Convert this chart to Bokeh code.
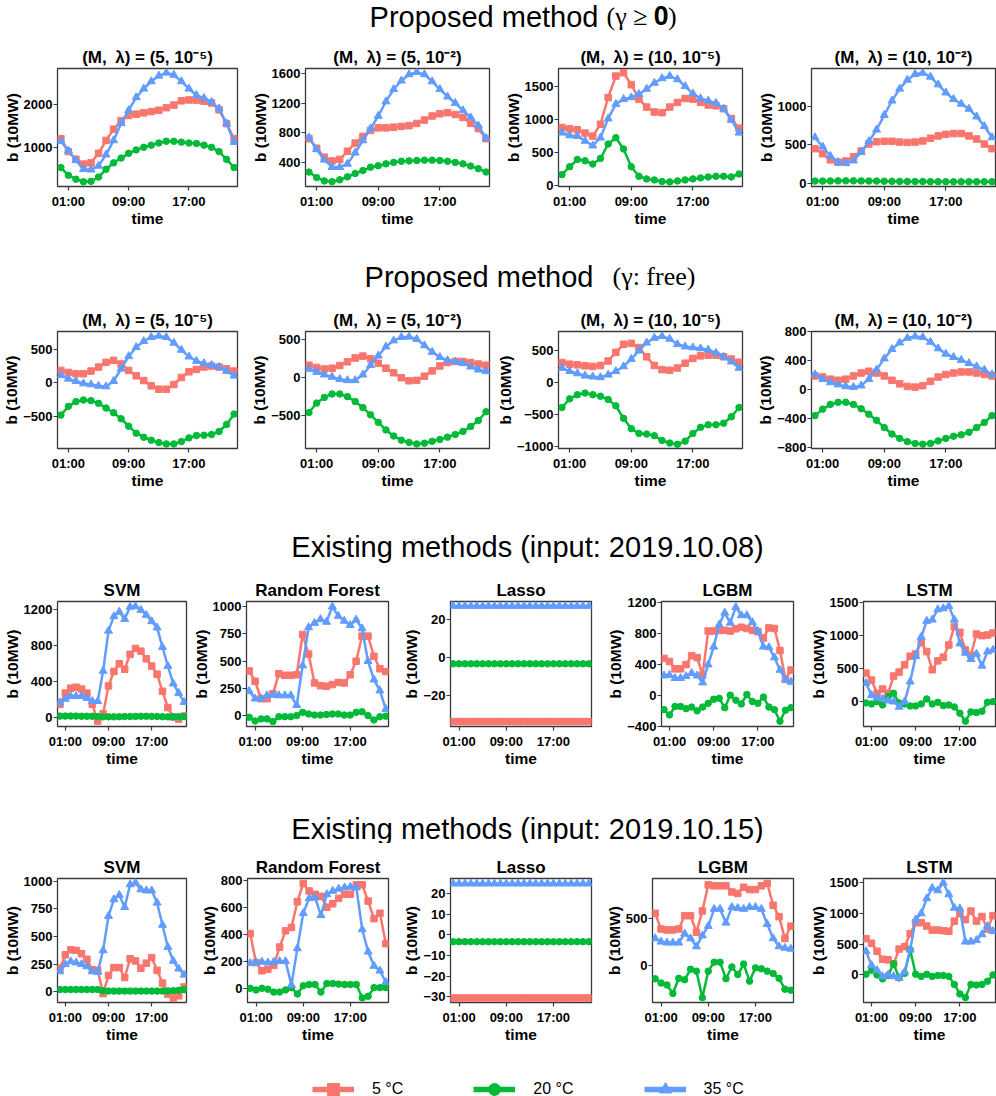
from bokeh.plotting import figure
from bokeh.layouts import column, row
from bokeh.models import Range1d, FixedTicker, Label, Legend, LegendItem
from bokeh.embed import file_html
from bokeh.resources import INLINE

# ---------------- data ----------------
hours = [0, 1, 2, 3, 4, 5, 6, 7, 8, 9, 10, 11, 12, 13, 14, 15, 16, 17, 18, 19, 20, 21, 22, 23]
x_ticks = [1, 9, 17]
x_tick_labels = ["01:00", "09:00", "17:00"]
series_names = ["5 °C", "20 °C", "35 °C"]

# Proposed method (gamma >= 0)
A1_5C = [1210, 910, 730, 620, 650, 870, 1170, 1430, 1630, 1750, 1780, 1810, 1840, 1870, 1930, 1990, 2090, 2110, 2100, 2080, 2040, 1880, 1560, 1210]
A1_20C = [540, 360, 270, 210, 220, 320, 500, 650, 760, 870, 950, 1010, 1060, 1110, 1150, 1150, 1130, 1110, 1100, 1060, 1010, 910, 730, 540]
A1_35C = [1150, 930, 710, 500, 490, 580, 840, 1170, 1570, 1870, 2170, 2370, 2540, 2670, 2740, 2690, 2540, 2370, 2220, 2150, 2060, 1910, 1560, 1130]

A2_5C = [720, 590, 470, 420, 440, 550, 660, 750, 830, 865, 865, 875, 885, 895, 925, 970, 1025, 1055, 1070, 1045, 1005, 925, 855, 720]
A2_20C = [270, 195, 150, 140, 165, 205, 250, 290, 335, 355, 380, 400, 415, 420, 425, 430, 430, 425, 415, 400, 380, 350, 315, 270]
A2_35C = [735, 575, 435, 335, 335, 380, 530, 695, 855, 1025, 1220, 1385, 1500, 1585, 1615, 1585, 1490, 1385, 1285, 1200, 1100, 1005, 895, 725]

A3_5C = [885, 865, 850, 800, 755, 935, 1340, 1665, 1715, 1535, 1315, 1195, 1120, 1110, 1195, 1265, 1325, 1315, 1265, 1225, 1215, 1170, 1020, 875]
A3_20C = [170, 290, 400, 380, 330, 415, 635, 730, 560, 290, 145, 105, 90, 65, 60, 75, 90, 105, 120, 135, 145, 145, 135, 180]
A3_35C = [805, 765, 755, 680, 610, 730, 1020, 1240, 1315, 1340, 1390, 1470, 1560, 1630, 1665, 1615, 1510, 1400, 1325, 1290, 1255, 1170, 1000, 805]

A4_5C = [450, 385, 305, 275, 290, 345, 420, 510, 540, 545, 545, 535, 530, 535, 550, 585, 615, 635, 645, 645, 615, 575, 510, 450]
A4_20C = [30, 30, 32, 33, 33, 33, 32, 31, 30, 28, 27, 26, 25, 24, 24, 23, 23, 22, 22, 22, 22, 22, 22, 22]
A4_35C = [595, 475, 355, 275, 260, 295, 405, 545, 695, 885, 1070, 1225, 1340, 1415, 1430, 1380, 1280, 1175, 1090, 1030, 965, 865, 740, 595]

# Proposed method (gamma free)
B1_5C = [185, 155, 135, 135, 175, 235, 305, 335, 280, 185, 105, 35, -45, -95, -95, -25, 80, 165, 200, 235, 250, 235, 210, 175]
B1_20C = [-480, -350, -280, -255, -265, -305, -375, -445, -535, -645, -750, -810, -855, -890, -910, -910, -875, -820, -785, -780, -770, -725, -620, -465]
B1_35C = [115, 60, 25, -10, -25, -45, -55, 25, 210, 395, 530, 620, 680, 700, 680, 595, 490, 390, 325, 290, 265, 235, 175, 105]

B2_5C = [165, 135, 115, 125, 160, 210, 260, 285, 250, 190, 125, 65, 0, -40, -35, 20, 90, 155, 200, 215, 215, 200, 180, 165]
B2_20C = [-460, -335, -260, -215, -215, -250, -315, -395, -490, -590, -690, -770, -825, -855, -875, -865, -840, -815, -785, -750, -710, -645, -565, -450]
B2_35C = [115, 75, 40, 10, -20, -35, -35, 40, 165, 290, 410, 490, 535, 540, 510, 425, 340, 270, 230, 210, 190, 145, 105, 85]

B3_5C = [315, 290, 280, 265, 255, 270, 340, 475, 600, 615, 550, 405, 270, 205, 195, 230, 305, 380, 420, 430, 430, 405, 370, 320]
B3_20C = [-385, -250, -185, -160, -185, -210, -260, -360, -555, -715, -790, -800, -825, -900, -940, -960, -910, -790, -695, -655, -655, -630, -530, -385]
B3_35C = [230, 180, 145, 110, 95, 85, 125, 180, 255, 370, 500, 625, 700, 725, 685, 600, 565, 550, 535, 515, 465, 405, 330, 230]

B4_5C = [190, 175, 145, 130, 145, 190, 230, 255, 230, 190, 130, 80, 45, 35, 55, 115, 175, 210, 230, 245, 245, 230, 210, 190]
B4_20C = [-360, -270, -205, -175, -175, -205, -265, -340, -425, -525, -615, -675, -720, -745, -755, -745, -710, -675, -645, -625, -590, -525, -455, -360]
B4_35C = [210, 145, 100, 70, 45, 35, 55, 145, 275, 430, 560, 650, 715, 735, 725, 660, 570, 495, 450, 410, 365, 320, 275, 210]

# Existing methods (input: 2019.10.08)
C1_5C = [150, 275, 330, 340, 320, 275, 150, -35, 45, 355, 515, 600, 540, 705, 770, 740, 655, 575, 485, 295, 115, 10, -15, 20]
C1_20C = [20, 20, 20, 20, 18, 18, 18, 15, 12, 12, 12, 14, 15, 15, 17, 18, 18, 17, 15, 14, 12, 12, 13, 15]
C1_35C = [170, 210, 240, 240, 240, 220, 185, 185, 520, 965, 1125, 1175, 1095, 1230, 1235, 1195, 1140, 1070, 1000, 785, 575, 380, 275, 175]

C2_5C = [410, 315, 155, 155, 200, 385, 370, 370, 375, 745, 565, 300, 275, 270, 285, 305, 300, 375, 500, 730, 730, 545, 430, 405]
C2_20C = [-15, -50, -30, -30, -55, -10, -10, -10, 0, 30, 15, 5, 5, 10, 15, 15, 5, 5, 30, 35, 0, -40, -10, -5]
C2_35C = [225, 155, 155, 185, 190, 185, 185, 185, 95, 460, 810, 850, 885, 860, 1000, 915, 870, 830, 880, 800, 500, 330, 230, 60]

C3_5C = [-34, -34, -34, -34, -34, -34, -34, -34, -34, -34, -34, -34, -34, -34, -34, -34, -34, -34, -34, -34, -34, -34, -34, -34]
C3_20C = [-3.5, -3.5, -3.5, -3.5, -3.5, -3.5, -3.5, -3.5, -3.5, -3.5, -3.5, -3.5, -3.5, -3.5, -3.5, -3.5, -3.5, -3.5, -3.5, -3.5, -3.5, -3.5, -3.5, -3.5]
C3_35C = [27, 27, 27, 27, 27, 27, 27, 27, 27, 27, 27, 27, 27, 27, 27, 27, 27, 27, 27, 27, 27, 27, 27, 27]

C4_5C = [475, 435, 340, 340, 395, 510, 485, 260, 828, 828, 837, 837, 828, 857, 877, 861, 837, 820, 739, 869, 861, 577, 203, 325]
C4_20C = [-187, -256, -146, -146, -175, -154, -203, -154, -106, -53, -41, -162, 0, -65, -114, 8, -81, -106, -24, -154, -187, -337, -195, -162]
C4_35C = [252, 260, 219, 219, 244, 284, 252, 162, 394, 625, 910, 1064, 934, 1137, 1031, 1031, 942, 828, 625, 617, 487, 325, 203, 171]

C5_5C = [430, 325, 125, 190, 125, 385, 445, 555, 685, 720, 890, 755, 480, 615, 670, 855, 1130, 1045, 780, 700, 1020, 995, 1005, 1035]
C5_20C = [-20, -35, 0, -50, 75, 125, -20, -35, -65, -65, -35, 40, -35, -10, -60, -50, -80, -175, -295, -155, -165, -145, -10, 0]
C5_35C = [280, 95, 60, 40, 15, 0, -80, 0, 300, 685, 975, 1215, 1235, 1390, 1405, 1440, 1235, 875, 735, 640, 720, 540, 755, 780]

# Existing methods (input: 2019.10.15)
D1_5C = [215, 335, 380, 375, 345, 295, 200, 195, -15, 150, 220, 220, 130, 300, 280, 215, 260, 310, 195, 80, -20, -55, -35, 45]
D1_20C = [22, 22, 22, 22, 22, 22, 22, 22, 10, 8, 8, 8, 8, 8, 8, 8, 8, 8, 8, 8, 10, 12, 15, 20]
D1_35C = [185, 250, 275, 265, 250, 230, 185, 180, 375, 685, 835, 875, 765, 970, 985, 925, 915, 915, 805, 605, 405, 280, 210, 155]

D2_5C = [405, 190, 130, 140, 170, 305, 425, 450, 640, 775, 720, 695, 680, 600, 625, 665, 695, 695, 765, 765, 645, 515, 555, 330]
D2_20C = [0, -12, 0, -7, -28, -28, -12, 5, -42, 19, 28, 28, -28, 35, 35, 31, 28, 28, 28, -71, -59, 5, 5, 5]
D2_35C = [185, 190, 195, 190, 195, 200, 200, 25, 295, 555, 665, 670, 540, 695, 720, 735, 745, 750, 745, 435, 270, 165, 130, 45]

D3_5C = [-30.7, -30.7, -30.7, -30.7, -30.7, -30.7, -30.7, -30.7, -30.7, -30.7, -30.7, -30.7, -30.7, -30.7, -30.7, -30.7, -30.7, -30.7, -30.7, -30.7, -30.7, -30.7, -30.7, -30.7]
D3_20C = [-3.3, -3.3, -3.3, -3.3, -3.3, -3.3, -3.3, -3.3, -3.3, -3.3, -3.3, -3.3, -3.3, -3.3, -3.3, -3.3, -3.3, -3.3, -3.3, -3.3, -3.3, -3.3, -3.3, -3.3]
D3_35C = [25, 25, 25, 25, 25, 25, 25, 25, 25, 25, 25, 25, 25, 25, 25, 25, 25, 25, 25, 25, 25, 25, 25, 25]

D4_5C = [550, 385, 375, 375, 385, 525, 525, 350, 575, 850, 840, 840, 840, 775, 760, 825, 800, 800, 840, 865, 635, 515, 285, 415]
D4_20C = [-140, -185, -205, -295, -135, -150, -40, -60, -340, -60, 35, 35, -140, -15, -95, 15, -165, -25, -35, -60, -85, -135, -250, -260]
D4_35C = [285, 250, 240, 240, 240, 335, 285, 200, 315, 415, 595, 595, 450, 615, 605, 595, 615, 615, 595, 435, 285, 200, 185, 175]

D5_5C = [590, 515, 385, 255, 245, 180, 420, 460, 670, 850, 850, 795, 730, 730, 720, 710, 875, 1000, 900, 1040, 875, 950, 745, 965]
D5_20C = [10, 75, 0, -65, -10, 180, -50, 25, 410, 10, -25, 10, -25, -10, -10, -25, -155, -310, -370, -155, -165, -155, -105, 0]
D5_35C = [385, 155, 75, -25, 0, -25, -50, 50, 410, 900, 1000, 1245, 1415, 1375, 1500, 1310, 1090, 1080, 540, 540, 565, 660, 795, 710]

titles_proposed = ["(M,\u2002λ) = (5, 10⁻⁵)", "(M,\u2002λ) = (5, 10⁻²)", "(M,\u2002λ) = (10, 10⁻⁵)", "(M,\u2002λ) = (10, 10⁻²)"]
titles_existing = ["SVM", "Random Forest", "Lasso", "LGBM", "LSTM"]

# y axis limits and ticks per panel
A_ylims = [(100, 2840), (75, 1665), (-10, 1780), (-40, 1488)]
A_yticks = [[1000, 2000], [400, 800, 1200, 1600], [0, 500, 1000, 1500], [0, 500, 1000]]
B_ylims = [(-978, 765), (-935, 610), (-1025, 800), (-815, 805)]
B_yticks = [[-500, 0, 500], [-500, 0, 500], [-1000, -500, 0, 500], [-800, -400, 0, 400, 800]]
C_ylims = [(-95, 1290), (-100, 1048), (-36.6, 29.4), (-405, 1210), (-375, 1510)]
C_yticks = [[0, 400, 800, 1200], [0, 250, 500, 750, 1000], [-20, 0, 20], [-400, 0, 400, 800, 1200], [0, 500, 1000, 1500]]
D_ylims = [(-95, 1024), (-105, 812), (-32.9, 27.5), (-390, 917), (-450, 1570)]
D_yticks = [[0, 250, 500, 750, 1000], [0, 200, 400, 600, 800], [-30, -20, -10, 0, 10, 20], [0, 500], [0, 500, 1000, 1500]]

# ---------------- styling ----------------
COLORS = ["#F8766D", "#00BA38", "#619CFF"]
MARKERS = ["square", "circle", "triangle"]
MSIZE = [6.5, 6.5, 8]
FONT = "Liberation Sans"
SERIF = "Liberation Serif"
PAGE_W = 996


def fmt(v):
    return str(v).replace("-", "\u2212")


def panel(title, series, ylim, yticks, left, frame_w, right, frame_h, top=35, bottom=36):
    p = figure(width=left + frame_w + right, height=top + frame_h + bottom,
               x_range=Range1d(-0.45, 23.45), y_range=Range1d(*ylim),
               output_backend="svg", toolbar_location=None,
               min_border_left=left, min_border_right=right,
               min_border_top=top, min_border_bottom=bottom, title=title)
    p.title.text_font = FONT
    p.title.text_font_size = "17px"
    p.title.text_font_style = "bold"
    p.title.align = "center"
    p.title.standoff = 3
    p.title.text_color = "black"
    p.grid.visible = False
    p.outline_line_color = "#3a3a3a"
    p.outline_line_width = 1.3
    p.background_fill_color = "white"
    p.border_fill_color = "white"

    p.xaxis.ticker = FixedTicker(ticks=x_ticks)
    p.xaxis.major_label_overrides = {t: l for t, l in zip(x_ticks, x_tick_labels)}
    p.yaxis.ticker = FixedTicker(ticks=yticks)
    p.yaxis.major_label_overrides = {t: fmt(t) for t in yticks}
    p.xaxis.axis_label = "time"
    p.yaxis.axis_label = "b (10MW)"
    for ax in (p.xaxis, p.yaxis):
        ax.axis_line_color = None
        ax.major_tick_line_color = "#3a3a3a"
        ax.major_tick_line_width = 1.2
        ax.major_tick_out = 4
        ax.major_tick_in = 0
        ax.minor_tick_line_color = None
        ax.major_label_text_font = FONT
        ax.major_label_text_font_size = "13px"
        ax.major_label_text_font_style = "bold"
        ax.major_label_text_color = "black"
        ax.axis_label_text_font = FONT
        ax.axis_label_text_font_size = "15.5px"
        ax.axis_label_text_font_style = "bold"
        ax.axis_label_text_color = "black"
    p.yaxis.major_label_standoff = 1
    p.yaxis.axis_label_standoff = 0
    p.xaxis.major_label_standoff = 3
    p.xaxis.axis_label_standoff = -2

    for vals, col, mk, ms in zip(series, COLORS, MARKERS, MSIZE):
        p.line(hours, vals, line_color=col, line_width=2.5)
        p.scatter(hours, vals, marker=mk, size=ms, fill_color=col, line_color=col)
    return p


def header(height, center_from_top, parts):
    p = figure(width=PAGE_W, height=height, x_range=Range1d(0, PAGE_W), y_range=Range1d(0, height),
               output_backend="svg", toolbar_location=None, min_border=0,
               x_axis_type=None, y_axis_type=None)
    p.outline_line_color = None
    p.grid.visible = False
    for txt, x, align, font, size in parts:
        p.add_layout(Label(x=x, y=height - center_from_top, text=txt, text_align=align,
                           text_baseline="middle", text_font=font, text_font_size=size,
                           text_color="black"))
    return p


# frame layout: (left edge, width) in page px
rowA_frames = [(53, 184), (305, 184), (558, 184), (811, 184)]
rowC_frames = [(53, 133), (246, 142), (450, 141), (661, 132), (863, 132)]
rowD_frames = [(53, 133), (247, 141), (450, 141), (652, 141), (863, 132)]


def build_row(frames, titles, data, ylims, yticks, frame_h):
    figs = []
    edge = 0
    for i, (fl, fw) in enumerate(frames):
        left = fl - edge
        right = 3 if i < len(frames) - 1 else PAGE_W - (fl + fw)
        figs.append(panel(titles[i], data[i], ylims[i], yticks[i], left, fw, right, frame_h))
        edge = fl + fw + right
    return row(*figs, spacing=0)


rowA = build_row(rowA_frames, titles_proposed,
                 [(A1_5C, A1_20C, A1_35C), (A2_5C, A2_20C, A2_35C), (A3_5C, A3_20C, A3_35C), (A4_5C, A4_20C, A4_35C)],
                 A_ylims, A_yticks, 125)
rowB = build_row(rowA_frames, titles_proposed,
                 [(B1_5C, B1_20C, B1_35C), (B2_5C, B2_20C, B2_35C), (B3_5C, B3_20C, B3_35C), (B4_5C, B4_20C, B4_35C)],
                 B_ylims, B_yticks, 124)
rowC = build_row(rowC_frames, titles_existing,
                 [(C1_5C, C1_20C, C1_35C), (C2_5C, C2_20C, C2_35C), (C3_5C, C3_20C, C3_35C), (C4_5C, C4_20C, C4_35C), (C5_5C, C5_20C, C5_35C)],
                 C_ylims, C_yticks, 132)
rowD = build_row(rowD_frames, titles_existing,
                 [(D1_5C, D1_20C, D1_35C), (D2_5C, D2_20C, D2_35C), (D3_5C, D3_20C, D3_35C), (D4_5C, D4_20C, D4_35C), (D5_5C, D5_20C, D5_35C)],
                 D_ylims, D_yticks, 131)

h1 = header(33, 16, [("Proposed method", 598, "right", FONT, "29px"),
                     ("(γ\u2005≥\u2005𝟎)", 606, "left", SERIF, "26px")])
h2 = header(67, 47, [("Proposed method", 593, "right", FONT, "29px"),
                     ("(γ:\u2005free)", 612, "left", SERIF, "26px")])
h3 = header(75, 55, [("Existing methods (input: 2019.10.08)", 527, "center", FONT, "29px")])
h4 = header(74, 59, [("Existing methods (input: 2019.10.15)", 527, "center", FONT, "29px")])

# legend strip (dummy renderers lie outside the visible range; only the legend shows)
LEG_H = 51
lg = figure(width=PAGE_W, height=LEG_H, x_range=Range1d(0, 1), y_range=Range1d(0, 1),
            output_backend="svg", toolbar_location=None, min_border=0,
            x_axis_type=None, y_axis_type=None)
lg.outline_line_color = None
lg.grid.visible = False
items = []
for name, col, mk in zip(series_names, COLORS, MARKERS):
    r1 = lg.line([5, 6], [5, 6], line_color=col, line_width=5.5)
    r2 = lg.scatter([5, 6], [5, 6], marker=mk, size=12, fill_color=col, line_color=col)
    items.append(LegendItem(label=name, renderers=[r1, r2]))
legend = Legend(items=items, orientation="horizontal", location=(312, -8),
                glyph_width=42, glyph_height=30, label_height=30, label_standoff=18,
                spacing=70, padding=0, margin=0, border_line_color=None,
                background_fill_alpha=0, label_text_font=FONT, label_text_font_size="16px",
                label_text_color="black")
lg.add_layout(legend)

layout = column(h1, rowA, h2, rowB, h3, rowC, h4, rowD, lg, spacing=0)

with open("out.html", "w") as f:
    f.write(file_html(layout, INLINE))
